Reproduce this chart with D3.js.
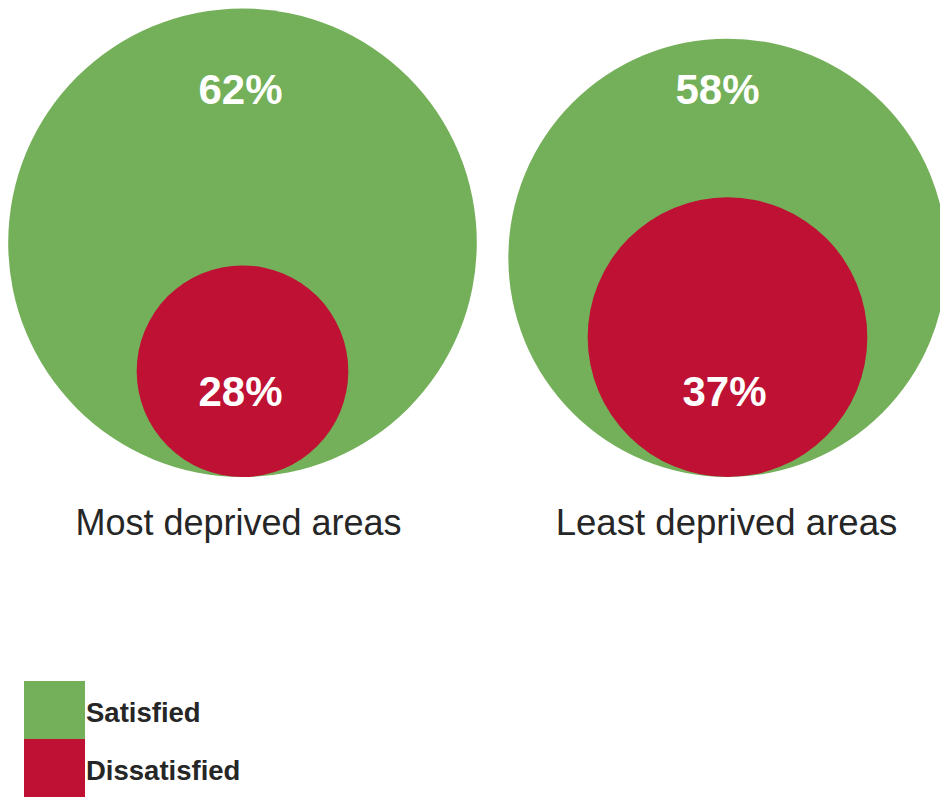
<!DOCTYPE html>
<html>
<head>
<meta charset="utf-8">
<script src="https://cdn.jsdelivr.net/npm/d3@7"></script>
<style>
  html, body { margin: 0; padding: 0; background: #fff; overflow: hidden; }
  svg { display: block; font-family: "Liberation Sans", Arial, sans-serif; }
</style>
</head>
<body>
<svg id="chart" width="940" height="798"></svg>
<script>
// Data
const categories = ["Most deprived areas", "Least deprived areas"];
const series = ["Satisfied", "Dissatisfied"];
const satisfied = [62, 58];
const dissatisfied = [28, 37];
const colors = ["#74AF59", "#BE1134"];

const svg = d3.select("#chart");

const x = d3.scaleBand().domain(categories).range([0, 970]);
const r = d3.scaleLinear().domain([0, 100]).range([0, 377.9]);
const color = d3.scaleOrdinal().domain(series).range(colors);
const baseY = 477;

const rows = categories.map((c, i) => ({
  cat: c,
  values: [
    { s: "Satisfied", v: satisfied[i] },
    { s: "Dissatisfied", v: dissatisfied[i] }
  ]
}));

const g = svg.selectAll("g.group").data(rows).join("g")
  .attr("class", "group")
  .attr("transform", d => `translate(${x(d.cat) + x.bandwidth() / 2},0)`);

g.selectAll("circle").data(d => d.values).join("circle")
  .attr("cx", 0)
  .attr("cy", d => baseY - r(d.v))
  .attr("r", d => r(d.v))
  .attr("fill", d => color(d.s));

// value labels
const labelY = { "Satisfied": 104, "Dissatisfied": 406 };
g.each(function(d, i) {
  const gg = d3.select(this);
  d.values.forEach(v => {
    gg.append("text")
      .attr("x", (v.s === "Satisfied" && i === 1) ? -10 : (i === 0 ? -2 : -3))
      .attr("y", labelY[v.s])
      .attr("text-anchor", "middle")
      .attr("fill", "#fff")
      .attr("font-weight", "bold")
      .attr("font-size", 42)
      .text(v.v + "%");
  });
  gg.append("text")
    .attr("x", i === 0 ? -4 : -1)
    .attr("y", 535)
    .attr("text-anchor", "middle")
    .attr("fill", "#262626")
    .attr("font-size", i === 0 ? 36 : 36.6)
    .text(d.cat);
});

// legend
const legend = svg.append("g").attr("transform", "translate(24,681)");
const li = legend.selectAll("g").data(series).join("g")
  .attr("transform", (d, i) => `translate(0,${i * 58})`);
li.append("rect")
  .attr("width", 61).attr("height", 58)
  .attr("fill", d => color(d));
li.append("text")
  .attr("x", 62).attr("y", 41)
  .attr("fill", "#262626")
  .attr("font-weight", "bold")
  .attr("font-size", 27.5)
  .text(d => d);
</script>
</body>
</html>
